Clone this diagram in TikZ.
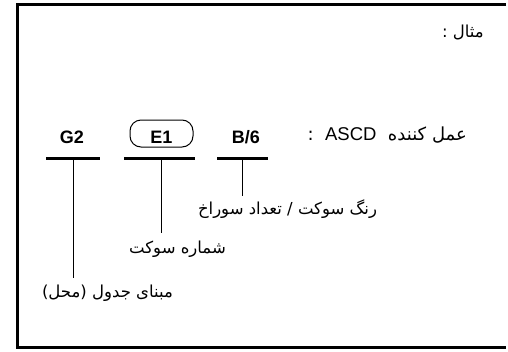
\documentclass[tikz,border=0pt]{standalone}
\usepackage{fontspec}
\setmainfont{Liberation Sans}
\newfontfamily\fafont[Script=Arabic]{DejaVu Sans}
\TeXXeTstate=1
\begin{document}
\begin{tikzpicture}[x=1pt,y=-1pt,
  code/.style={font=\fontsize{18}{20}\selectfont\bfseries, inner sep=0pt, anchor=base},
  fa/.style={font=\fontsize{16.5}{18}\selectfont\fafont, inner sep=0pt, anchor=base},
  bar/.style={line width=3pt},
  lead/.style={line width=0.8pt},
  frame/.style={line width=2.6pt}
]
\useasboundingbox (0,0) rectangle (508,351);
\draw[frame] (506,4.3) -- (17.3,4.3) -- (17.3,347.7) -- (506,347.7);

% title
\node[fa, anchor=base east] (title) at (484,37) {\beginR مثال :\endR};

% codes
\node[code] (g2) at (72,143) {G2};
\node[code] (e1) at (161.5,143) {E1};
\node[draw, line width=1pt, rounded corners=11pt, minimum width=63pt, minimum height=27pt, inner sep=0pt] (e1box) at (161.5,133.5) {};
\node[code] (b6) at (246,143) {B/6};

\node[font=\fontsize{18}{20}\selectfont, inner sep=0pt, anchor=base east] (asc) at (467,140) {\fafont\beginR عمل کننده\ \ \beginL{\fontspec{Liberation Sans}\fontsize{18.5}{20}\selectfont ASCD}\endL{}\ \ :\endR};

% bars
\coordinate (gb) at (73,158);
\coordinate (eb) at (161,158);
\coordinate (bb) at (242.5,158);
\draw[bar] (46,158) -- (100,158);
\draw[bar] (124,158) -- (195,158);
\draw[bar] (217,158) -- (268,158);

% labels
\node[fa] (lb) at (287.5,214) {\beginR رنگ سوکت / تعداد سوراخ\endR};
\node[fa] (le) at (177.5,253) {\beginR شماره سوکت\endR};
\node[fa] (lg) at (107.5,297) {\beginR مبنای جدول (محل)\endR};

\coordinate (lbtop) at ([yshift=18pt]lb.base);
\coordinate (letop) at ([yshift=20pt]le.base);
\coordinate (lgtop) at ([yshift=19pt]lg.base);

\draw[lead] (gb) -- (gb |- lgtop);
\draw[lead] (eb) -- (eb |- letop);
\draw[lead] (bb) -- (bb |- lbtop);
\end{tikzpicture}
\end{document}
